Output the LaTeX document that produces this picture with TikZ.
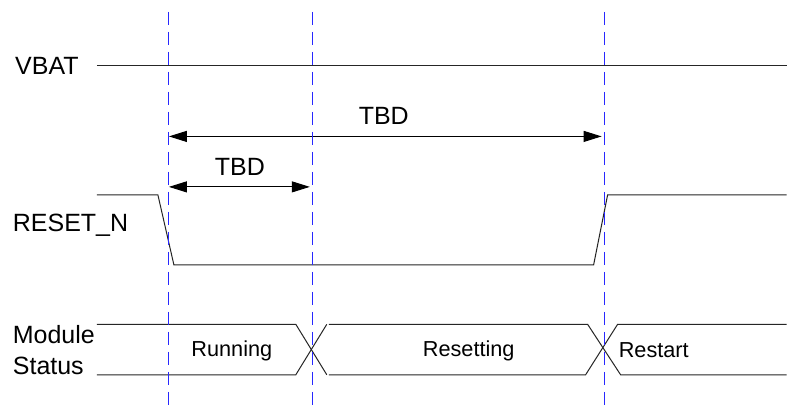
\documentclass[tikz,border=0pt]{standalone}
\usepackage{fontspec}
\setmainfont{Liberation Sans}
\usetikzlibrary{arrows.meta}
\definecolor{guideblue}{RGB}{40,40,255}
\begin{document}
\begin{tikzpicture}[x=1pt,y=-1pt,
  wave/.style={draw=black!85, line width=1pt},
  guide/.style={draw=guideblue, line width=1.1pt, dash pattern=on 13pt off 7pt},
  dim/.style={draw=black, line width=1pt,
    {Triangle[length=18pt,width=11pt]}-{Triangle[length=18pt,width=11pt]}},
  sig/.style={font=\fontsize{25}{25}\selectfont, inner sep=0pt, anchor=base west},
  state/.style={font=\fontsize{21.7}{22}\selectfont, inner sep=0pt, anchor=base},
  tbd/.style={font=\fontsize{25}{25}\selectfont, inner sep=0pt, anchor=base}]
% canvas
\path[fill=white] (0,0) rectangle (787,409);

% signal names
\node[sig] (vbat)  at (15,75)   {VBAT};
\node[sig] (rst)   at (12.7,232) {RESET\_N};
\node[sig] (mod)   at (12.7,344) {Module};
\node[sig] (stat)  at (12.7,375) {Status};

% VBAT level
\coordinate (vS) at (97,66);
\coordinate (vE) at (787,66);
\draw[wave] (vS) -- (vE);

% RESET_N waveform
\coordinate (r0) at (97,195);
\coordinate (r1) at (158,195);
\coordinate (r2) at (174,265);
\coordinate (r3) at (594,265);
\coordinate (r4) at (608,195);
\coordinate (r5) at (787,195);
\draw[wave] (r0) -- (r1) -- (r2) -- (r3) -- (r4) -- (r5);

% module status bus
\coordinate (bt0) at (97,324.5);  \coordinate (bb0) at (97,375);
\coordinate (bt1) at (296,324.5); \coordinate (bb1) at (296,375);
\coordinate (xt1) at (327,324.5); \coordinate (xb1) at (327,375);
\draw[wave] (bt0) -- (bt1) -- (xb1);
\draw[wave] (bb0) -- (bb1) -- (xt1);
\coordinate (bt2) at (329,324.5); \coordinate (bb2) at (329,375);
\coordinate (bt3) at (588,324.5); \coordinate (bb3) at (586,375);
\coordinate (xt2) at (618,324.5); \coordinate (xb2) at (621,375);
\coordinate (bt4) at (787,324.5); \coordinate (bb4) at (787,375);
\draw[wave] (bt2) -- (bt3) -- (xb2) -- (bb4);
\draw[wave] (bb2) -- (bb3) -- (xt2) -- (bt4);

\node[state] (s1) at (232,357) {Running};
\node[state] (s2) at (469,357) {Resetting};
\node[state, anchor=base west] (s3) at (619,358) {Restart};

% timing dimensions
\coordinate (d1l) at (169,136.5); \coordinate (d1r) at (602,136.5);
\coordinate (d2l) at (169,187);   \coordinate (d2r) at (310,187);
\draw[dim] (d1l) -- (d1r);
\draw[dim] (d2l) -- (d2r);
\node[tbd] (t1) at (384,125) {TBD};
\node[tbd] (t2) at (240,176) {TBD};

% vertical timing guides, on top of the waveforms
\coordinate (g1t) at (169,12);    \coordinate (g1b) at (169,409);
\coordinate (g2t) at (312.5,12);  \coordinate (g2b) at (312.5,409);
\coordinate (g3t) at (605,12);    \coordinate (g3b) at (605,409);
\draw[guide] (g1t) -- (g1b);
\draw[guide] (g2t) -- (g2b);
\draw[guide] (g3t) -- (g3b);
\end{tikzpicture}
\end{document}
